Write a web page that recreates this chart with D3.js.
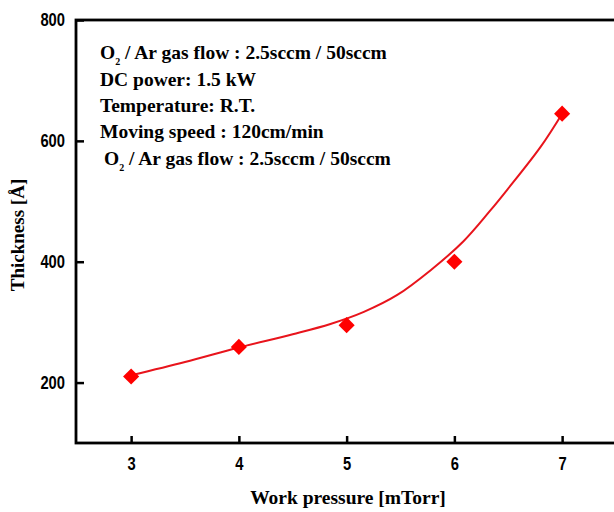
<!DOCTYPE html>
<html>
<head>
<meta charset="utf-8">
<script src="https://cdn.jsdelivr.net/npm/d3@7"></script>
<style>
  html, body { margin: 0; padding: 0; background: #fff; }
  svg { display: block; }
  .tick text { font-family: "Liberation Sans", Arial, sans-serif; font-weight: bold; font-size: 18px; fill: #000; }
  .serif { font-family: "Liberation Serif", "Times New Roman", serif; font-weight: bold; fill: #000; }
</style>
</head>
<body>
<svg id="chart" width="614" height="512"></svg>
<script>
// Data
const pressure = [3, 4, 5, 6, 7];                 // mTorr
const thickness = [210, 259, 295, 400, 645];      // Å
// Fitted smooth curve
const fitPressure = [3, 3.5, 4, 4.5, 4.85, 5.16, 5.47, 5.78, 6.08, 6.33, 6.49, 6.8, 7];
const fitThickness = [212, 234, 258, 280, 297, 317, 345, 386, 433, 484, 519, 590, 645];
const xTicks = [3, 4, 5, 6, 7];
const yTicks = [200, 400, 600, 800];
const notes = [
  ["O", "2", " / Ar gas flow : 2.5sccm / 50sccm"],
  ["DC power: 1.5 kW"],
  ["Temperature: R.T."],
  ["Moving speed : 120cm/min"],
  ["O", "2", " / Ar gas flow : 2.5sccm / 50sccm"]
];
const xTitle = "Work pressure [mTorr]";
const yTitle = "Thickness [Å]";

const svg = d3.select("#chart");
const mLeft = 76, mTop = 20, mBottom = 443, mRight = 620;

const x = d3.scaleLinear().domain([2.5, 7.5]).range([77.25, 616.0]);
const y = d3.scaleLinear().domain([100, 800]).range([mBottom, mTop]);

// Axes (ticks inward)
const xAxis = svg.append("g").attr("transform", `translate(0,${mBottom})`)
  .call(d3.axisBottom(x).tickValues(xTicks).tickFormat(d3.format("d")).tickSizeInner(-7).tickSizeOuter(0));
const yAxis = svg.append("g").attr("transform", `translate(${mLeft},0)`)
  .call(d3.axisLeft(y).tickValues(yTicks).tickFormat(d3.format("d")).tickSizeInner(-8).tickSizeOuter(0));
[xAxis, yAxis].forEach(g => {
  g.select(".domain").remove();
  g.selectAll(".tick line").attr("stroke", "#000").attr("stroke-width", 2.5);
});
xAxis.selectAll(".tick text").attr("y", 27).attr("dy", 0)
  .attr("transform", "scale(0.82,1)");
yAxis.selectAll(".tick text").attr("x", -11 / 0.82).attr("dy", "0.33em")
  .attr("transform", "scale(0.82,1)");

// Frame
svg.append("rect")
  .attr("x", mLeft).attr("y", mTop)
  .attr("width", mRight - mLeft).attr("height", mBottom - mTop)
  .attr("fill", "none").attr("stroke", "#000").attr("stroke-width", 2.8);

// Fit curve
const fitData = fitPressure.map((p, i) => [p, fitThickness[i]]);
svg.append("path")
  .datum(fitData)
  .attr("fill", "none")
  .attr("stroke", "#e8141c")
  .attr("stroke-width", 2)
  .attr("d", d3.line().x(d => x(d[0])).y(d => y(d[1])).curve(d3.curveCatmullRom.alpha(0.5)));

// Markers
svg.append("g").selectAll("path")
  .data(pressure.map((p, i) => [p, thickness[i]]))
  .join("path")
  .attr("transform", d => `translate(${x(d[0])},${y(d[1])}) rotate(45)`)
  .attr("d", d3.symbol(d3.symbolSquare, 130))
  .attr("fill", "#f00");

// Annotation
const noteX = [100, 100, 100, 100, 104];
const noteY = [59, 86, 112, 138, 165];
notes.forEach((parts, i) => {
  const t = svg.append("text").attr("class", "serif")
    .attr("x", noteX[i]).attr("y", noteY[i])
    .style("font-size", "19.5px");
  if (parts.length === 3) {
    t.append("tspan").text(parts[0]);
    t.append("tspan").attr("dy", 6).style("font-size", "10px").text(parts[1]);
    t.append("tspan").attr("dy", -6).text(parts[2]);
  } else {
    t.text(parts[0]);
  }
});

// Axis titles
svg.append("text").attr("class", "serif")
  .attr("x", 348).attr("y", 504)
  .attr("text-anchor", "middle")
  .style("font-size", "19.5px")
  .text(xTitle);
svg.append("text").attr("class", "serif")
  .attr("transform", "translate(24,235) rotate(-90)")
  .attr("text-anchor", "middle")
  .style("font-size", "19px")
  .text(yTitle);
</script>
</body>
</html>
